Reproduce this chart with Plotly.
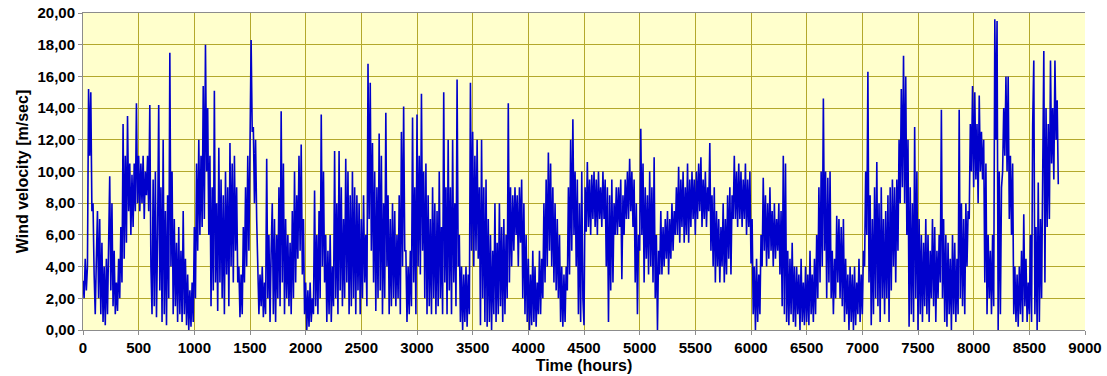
import plotly.graph_objects as go

# Wind velocity over one year (m/sec), one reading every 10 hours
STEP_HOURS = 10

wind_0000 = [3.1, 2.0, 4.5, 2.5, 4.0, 15.2, 11.0, 15.0, 7.5, 8.0,
             3.5, 1.0, 4.5, 7.5, 2.0, 7.0, 1.0, 5.5, 0.5, 4.0,
             0.3, 4.5, 1.0, 5.0, 9.7, 2.5, 8.0, 1.5, 5.0, 1.0,
             3.0, 1.2, 4.5, 2.0, 6.5, 3.0, 13.0, 4.5, 11.0, 5.5,
             13.5, 7.5, 10.5, 6.0, 9.8, 6.5, 10.5, 7.5, 14.3, 8.0]
wind_0500 = [11.0, 7.5, 10.5, 8.0, 11.0, 7.0, 10.0, 8.5, 11.0, 7.5,
             14.2, 4.0, 1.0, 9.5, 1.5, 10.0, 0.8, 6.0, 14.2, 2.5,
             9.0, 0.5, 12.0, 1.0, 7.5, 0.3, 8.5, 2.0, 17.5, 4.0,
             10.0, 1.0, 7.0, 1.5, 5.5, 0.5, 6.5, 1.0, 5.0, 0.5,
             7.5, 1.0, 4.5, 0.3, 3.5, 0.0, 2.5, 0.2, 3.0, 0.5]
wind_1000 = [6.5, 2.0, 10.5, 5.0, 12.0, 6.0, 11.0, 6.5, 15.4, 7.0,
             18.0, 10.0, 14.0, 6.0, 11.0, 1.5, 9.0, 2.5, 15.1, 3.0,
             8.0, 1.2, 11.5, 3.0, 9.5, 2.0, 8.5, 1.0, 10.0, 3.5,
             9.0, 1.5, 11.8, 4.0, 10.5, 3.0, 11.0, 5.0, 9.0, 3.0,
             4.0, 0.8, 3.5, 1.0, 6.5, 3.0, 9.0, 4.0, 11.0, 5.0]
wind_1500 = [10.0, 18.3, 12.5, 12.8, 8.0, 12.0, 7.0, 3.0, 1.0, 3.5,
             1.5, 4.0, 0.8, 3.0, 1.0, 10.8, 2.0, 6.0, 0.5, 5.0,
             8.0, 1.0, 7.0, 0.5, 6.0, 2.0, 9.0, 1.5, 13.8, 3.0,
             10.5, 1.0, 7.0, 2.0, 6.0, 1.5, 5.5, 1.0, 7.5, 2.0,
             10.0, 3.0, 8.5, 4.5, 11.0, 5.0, 11.7, 3.5, 7.0, 1.0]
wind_2000 = [3.0, 0.0, 2.5, 0.2, 3.0, 0.5, 2.0, 1.0, 8.8, 1.5,
             6.0, 1.0, 7.5, 2.0, 13.6, 4.0, 10.0, 3.0, 6.0, 0.5,
             5.0, 1.0, 6.0, 0.5, 4.0, 1.5, 11.3, 2.0, 8.0, 1.0,
             11.3, 2.5, 9.0, 1.5, 7.0, 2.0, 10.8, 3.0, 10.0, 1.0,
             8.5, 1.5, 10.0, 2.0, 9.0, 1.0, 8.5, 2.5, 8.0, 1.0]
wind_2500 = [7.0, 2.0, 8.5, 3.0, 6.0, 1.5, 16.8, 7.0, 15.6, 5.0,
             11.8, 3.0, 10.0, 1.2, 9.0, 2.0, 12.4, 2.5, 11.0, 1.0,
             8.0, 2.0, 13.7, 4.0, 8.5, 1.0, 7.0, 1.5, 8.0, 2.0,
             7.5, 1.5, 6.0, 2.0, 8.5, 1.0, 12.5, 4.0, 14.1, 5.0,
             5.0, 0.5, 4.0, 1.0, 5.0, 1.5, 13.4, 3.0, 9.0, 1.0]
wind_3000 = [13.6, 4.0, 11.0, 3.5, 14.9, 5.0, 10.0, 2.0, 10.5, 1.0,
             8.5, 1.5, 7.0, 1.0, 9.0, 2.0, 8.0, 1.0, 7.5, 1.5,
             10.0, 2.0, 6.5, 1.0, 15.0, 3.0, 9.0, 1.0, 12.0, 2.5,
             9.0, 1.0, 12.0, 3.0, 8.0, 1.5, 15.8, 4.0, 6.0, 0.5,
             4.0, 0.0, 3.5, 0.5, 4.0, 0.2, 3.5, 1.0, 15.6, 5.0]
wind_3500 = [12.5, 4.0, 11.0, 5.0, 12.0, 4.5, 9.0, 0.3, 12.0, 2.0,
             9.0, 0.5, 9.5, 0.2, 7.0, 0.5, 6.0, 0.0, 5.0, 1.0,
             8.0, 0.5, 5.5, 1.0, 8.0, 1.5, 6.5, 0.5, 7.0, 1.0,
             6.0, 2.0, 14.3, 3.0, 9.0, 4.0, 8.5, 5.0, 9.0, 6.0,
             8.5, 4.0, 9.0, 5.5, 9.5, 2.0, 8.0, 1.0, 6.0, 0.5]
wind_4000 = [4.5, 0.0, 3.5, 0.3, 5.0, 0.5, 4.0, 0.2, 3.0, 1.0,
             5.0, 1.0, 4.5, 2.0, 8.0, 3.0, 9.5, 4.0, 11.2, 5.0,
             10.5, 4.0, 9.0, 3.0, 8.0, 2.5, 7.0, 2.0, 6.0, 0.5,
             4.0, 0.2, 3.5, 0.5, 4.0, 2.5, 9.0, 3.5, 12.0, 5.0,
             13.3, 6.0, 10.0, 4.0, 9.5, 1.0, 8.0, 0.5, 10.0, 2.0]
wind_4500 = [0.3, 9.0, 6.2, 10.6, 6.5, 9.5, 6.0, 9.8, 7.0, 10.0,
             6.5, 9.5, 6.0, 10.0, 7.0, 9.0, 6.5, 10.0, 7.0, 9.5,
             4.0, 9.0, 0.5, 8.5, 2.5, 9.5, 3.0, 8.0, 6.0, 9.0,
             6.0, 9.0, 6.5, 9.5, 3.2, 8.5, 6.0, 9.5, 7.0, 10.0,
             7.0, 10.8, 7.5, 10.0, 6.5, 9.5, 3.0, 8.0, 1.0, 6.0]
wind_5000 = [5.0, 12.7, 6.0, 10.5, 3.0, 9.0, 4.5, 8.5, 3.5, 10.0,
             4.0, 9.0, 3.0, 10.9, 2.0, 6.0, 0.0, 5.0, 3.5, 7.5,
             3.5, 6.5, 4.0, 7.0, 4.5, 7.5, 3.5, 7.0, 4.5, 8.0,
             5.0, 7.5, 6.0, 9.0, 6.0, 10.3, 5.5, 9.5, 6.5, 10.0,
             5.5, 9.0, 6.0, 10.5, 5.5, 9.5, 6.5, 10.0, 7.0, 9.5]
wind_5500 = [6.0, 10.0, 7.0, 10.5, 7.5, 10.9, 6.5, 9.5, 7.0, 10.0,
             6.5, 9.0, 7.5, 11.8, 5.0, 8.5, 4.0, 9.0, 3.0, 7.5,
             4.0, 7.0, 3.0, 6.5, 4.0, 8.0, 3.0, 7.0, 3.5, 8.5,
             4.5, 9.0, 3.5, 8.5, 7.0, 11.0, 7.0, 10.0, 6.5, 10.5,
             7.0, 10.0, 6.5, 9.5, 7.0, 10.5, 6.0, 9.5, 6.5, 10.0]
wind_6000 = [4.2, 7.0, 1.0, 4.0, 0.0, 4.5, 0.5, 3.5, 1.0, 6.0,
             4.0, 9.6, 5.0, 8.5, 4.0, 8.0, 4.5, 9.0, 5.0, 7.5,
             4.0, 8.0, 4.5, 7.0, 5.0, 8.0, 3.5, 7.5, 1.5, 11.0,
             1.0, 10.5, 0.5, 5.0, 0.3, 4.5, 1.0, 5.5, 0.5, 4.0,
             0.2, 4.0, 1.0, 3.5, 0.0, 4.5, 0.5, 3.0, 0.3, 4.0]
wind_6500 = [0.5, 3.5, 0.3, 5.0, 1.0, 3.5, 0.5, 4.5, 1.0, 6.0,
             2.0, 9.0, 3.0, 10.0, 4.0, 14.6, 5.0, 10.0, 2.0, 9.6,
             3.0, 10.0, 2.0, 5.0, 1.0, 4.5, 2.0, 7.2, 3.0, 7.0,
             2.0, 6.5, 1.5, 7.0, 0.5, 4.5, 1.0, 3.5, 0.0, 4.0,
             0.5, 3.5, 0.0, 4.0, 0.3, 3.0, 1.0, 4.5, 0.5, 3.5]
wind_7000 = [1.0, 5.0, 4.0, 10.0, 6.0, 16.3, 3.0, 8.5, 0.3, 7.0,
             1.0, 9.0, 2.0, 10.6, 1.5, 8.0, 0.5, 9.0, 2.0, 7.0,
             1.0, 7.5, 2.0, 8.5, 0.5, 9.0, 2.5, 9.5, 4.0, 9.0,
             3.0, 9.5, 5.0, 12.0, 8.0, 15.2, 9.0, 17.3, 8.0, 16.0,
             6.0, 12.0, 0.2, 9.0, 1.0, 8.0, 0.5, 12.8, 2.0, 10.0]
wind_7500 = [0.0, 7.0, 1.0, 6.0, 0.5, 5.5, 1.5, 7.0, 1.0, 6.0,
             0.5, 5.0, 2.0, 7.0, 1.5, 6.5, 0.5, 5.0, 2.0, 6.0,
             3.0, 13.9, 2.0, 7.0, 0.5, 6.0, 0.2, 5.5, 1.0, 4.5,
             0.0, 6.0, 1.0, 5.5, 0.5, 4.5, 1.0, 13.9, 2.0, 8.0,
             1.5, 7.0, 1.0, 8.0, 4.0, 7.5, 7.0, 13.0, 10.0, 15.4]
wind_8000 = [9.0, 15.0, 9.5, 13.0, 8.0, 14.8, 10.0, 12.5, 9.5, 12.0,
             3.0, 10.5, 1.0, 6.0, 2.0, 5.0, 1.0, 6.0, 1.5, 19.6,
             12.0, 19.5, 0.0, 10.0, 1.0, 9.0, 10.0, 14.0, 11.0, 16.0,
             10.0, 16.0, 7.0, 11.0, 6.0, 10.5, 1.0, 4.0, 0.5, 3.5,
             0.2, 4.0, 1.0, 5.0, 0.5, 7.3, 1.5, 4.5, 0.5, 3.0]
wind_8500 = [1.0, 6.0, 0.5, 12.9, 17.0, 1.0, 6.5, 0.0, 9.3, 0.5,
             7.0, 2.0, 9.0, 17.6, 3.0, 14.0, 6.5, 13.0, 7.0, 17.0,
             10.5, 14.0, 9.5, 17.0, 12.0, 14.5, 9.2]

velocity = (wind_0000 + wind_0500 + wind_1000 + wind_1500 + wind_2000 + wind_2500
            + wind_3000 + wind_3500 + wind_4000 + wind_4500 + wind_5000 + wind_5500
            + wind_6000 + wind_6500 + wind_7000 + wind_7500 + wind_8000 + wind_8500)
hours = [i * STEP_HOURS for i in range(len(velocity))]

x_ticks = list(range(0, 9001, 500))
y_ticks = list(range(0, 21, 2))

GRID = "#B3A82C"
AXIS = "#8C8C8C"
TICK_FONT = dict(family="Liberation Sans, Arial, sans-serif", size=15, color="#000000", weight="bold")
TITLE_FONT = dict(family="Liberation Sans, Arial, sans-serif", size=16, color="#000000", weight="bold")

fig = go.Figure(
    go.Scatter(
        x=hours,
        y=velocity,
        mode="lines",
        line=dict(color="#0000CC", width=1.6),
        hoverinfo="skip",
    )
)

fig.update_layout(
    width=1107,
    height=376,
    margin=dict(l=83, r=22, t=13, b=46, autoexpand=False),
    paper_bgcolor="#FFFFFF",
    plot_bgcolor="#FFFFCC",
    separators=",.",
    font=TICK_FONT,
    showlegend=False,
)

fig.update_xaxes(
    range=[0, 9000],
    tickvals=x_ticks,
    tickformat="d",
    automargin=False,
    showgrid=True,
    gridcolor=GRID,
    gridwidth=1,
    zeroline=False,
    showline=True,
    linecolor=AXIS,
    linewidth=1,
    mirror=True,
    ticks="outside",
    ticklen=4,
    tickcolor=AXIS,
    tickfont=TICK_FONT,
    title=dict(text="Time (hours)", font=TITLE_FONT, standoff=4),
)

fig.update_yaxes(
    range=[0, 20],
    tickvals=y_ticks,
    tickformat=".2f",
    automargin=False,
    showgrid=True,
    gridcolor=GRID,
    gridwidth=1,
    zeroline=False,
    showline=True,
    linecolor=AXIS,
    linewidth=1,
    ticks="outside",
    ticklen=4,
    tickcolor=AXIS,
    tickfont=TICK_FONT,
    title=dict(text="Wind velocity [m/sec]", font=TITLE_FONT, standoff=4),
)

fig.write_html("out.html")
